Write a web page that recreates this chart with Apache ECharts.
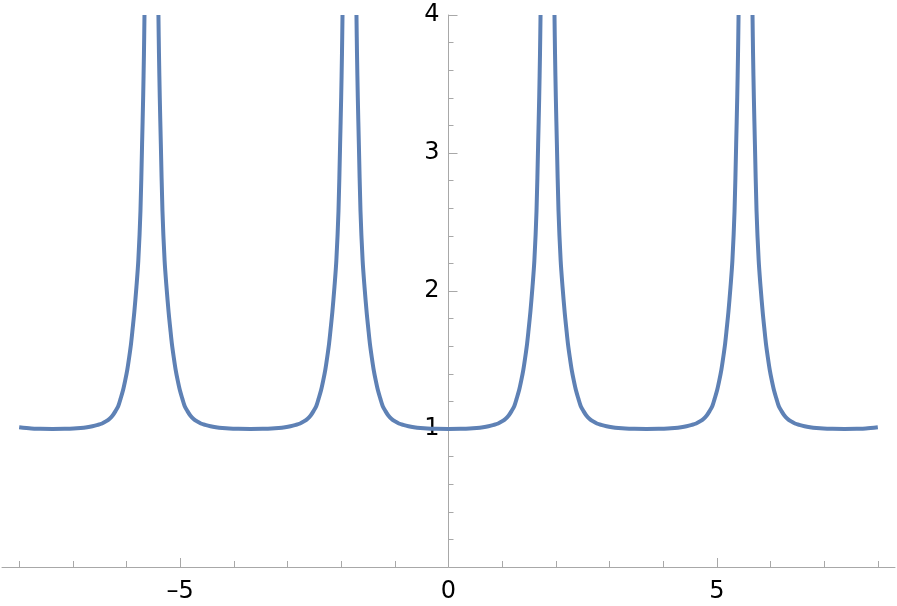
<!DOCTYPE html>
<html>
<head>
<meta charset="utf-8">
<script src="https://cdn.jsdelivr.net/npm/echarts@6/dist/echarts.min.js"></script>
<style>
html,body{margin:0;padding:0;background:#fff;}
#chart{width:897px;height:606px;}
</style>
</head>
<body>
<div id="chart"></div>
<script>
// Curve, split where it leaves the top of the plot (y = 4)
var seg1X = [-8, -7.775, -7.605, -7.38, -7.155, -6.985, -6.855, -6.735, -6.635, -6.535, -6.455, -6.385, -6.315, -6.255, -6.205, -6.155, -6.11, -6.065, -6.025, -5.985, -5.95, -5.915, -5.885, -5.855, -5.815, -5.78, -5.74, -5.71, -5.69, -5.675, -5.665];
var seg1Y = [1.012, 1.003, 1.001, 1.0, 1.001, 1.003, 1.007, 1.013, 1.02, 1.03, 1.04, 1.055, 1.075, 1.10, 1.13, 1.165, 1.22, 1.28, 1.35, 1.43, 1.52, 1.62, 1.73, 1.845, 2.03, 2.22, 2.58, 3.06, 3.40, 3.72, 4.0];

var seg2X = [-5.405, -5.395, -5.38, -5.36, -5.33, -5.29, -5.255, -5.215, -5.185, -5.155, -5.12, -5.085, -5.045, -5.005, -4.96, -4.915, -4.865, -4.815, -4.755, -4.685, -4.615, -4.535, -4.435, -4.335, -4.215, -4.085, -3.915, -3.69, -3.465, -3.295, -3.165, -3.045, -2.945, -2.845, -2.765, -2.695, -2.625, -2.565, -2.515, -2.465, -2.42, -2.375, -2.335, -2.295, -2.26, -2.225, -2.195, -2.165, -2.125, -2.09, -2.05, -2.02, -2.0, -1.985, -1.975];
var seg2Y = [4.0, 3.72, 3.40, 3.06, 2.58, 2.22, 2.03, 1.845, 1.73, 1.62, 1.52, 1.43, 1.35, 1.28, 1.22, 1.165, 1.13, 1.10, 1.075, 1.055, 1.04, 1.03, 1.02, 1.013, 1.007, 1.003, 1.001, 1.0, 1.001, 1.003, 1.007, 1.013, 1.02, 1.03, 1.04, 1.055, 1.075, 1.10, 1.13, 1.165, 1.22, 1.28, 1.35, 1.43, 1.52, 1.62, 1.73, 1.845, 2.03, 2.22, 2.58, 3.06, 3.40, 3.72, 4.0];

var seg3X = [-1.715, -1.705, -1.69, -1.67, -1.64, -1.6, -1.565, -1.525, -1.495, -1.465, -1.43, -1.395, -1.355, -1.315, -1.27, -1.225, -1.175, -1.125, -1.065, -0.995, -0.925, -0.845, -0.745, -0.645, -0.525, -0.395, -0.225, 0, 0.225, 0.395, 0.525, 0.645, 0.745, 0.845, 0.925, 0.995, 1.065, 1.125, 1.175, 1.225, 1.27, 1.315, 1.355, 1.395, 1.43, 1.465, 1.495, 1.525, 1.565, 1.6, 1.64, 1.67, 1.69, 1.705, 1.715];
var seg3Y = [4.0, 3.72, 3.40, 3.06, 2.58, 2.22, 2.03, 1.845, 1.73, 1.62, 1.52, 1.43, 1.35, 1.28, 1.22, 1.165, 1.13, 1.10, 1.075, 1.055, 1.04, 1.03, 1.02, 1.013, 1.007, 1.003, 1.001, 1.0, 1.001, 1.003, 1.007, 1.013, 1.02, 1.03, 1.04, 1.055, 1.075, 1.10, 1.13, 1.165, 1.22, 1.28, 1.35, 1.43, 1.52, 1.62, 1.73, 1.845, 2.03, 2.22, 2.58, 3.06, 3.40, 3.72, 4.0];

var seg4X = [1.975, 1.985, 2.0, 2.02, 2.05, 2.09, 2.125, 2.165, 2.195, 2.225, 2.26, 2.295, 2.335, 2.375, 2.42, 2.465, 2.515, 2.565, 2.625, 2.695, 2.765, 2.845, 2.945, 3.045, 3.165, 3.295, 3.465, 3.69, 3.915, 4.085, 4.215, 4.335, 4.435, 4.535, 4.615, 4.685, 4.755, 4.815, 4.865, 4.915, 4.96, 5.005, 5.045, 5.085, 5.12, 5.155, 5.185, 5.215, 5.255, 5.29, 5.33, 5.36, 5.38, 5.395, 5.405];
var seg4Y = [4.0, 3.72, 3.40, 3.06, 2.58, 2.22, 2.03, 1.845, 1.73, 1.62, 1.52, 1.43, 1.35, 1.28, 1.22, 1.165, 1.13, 1.10, 1.075, 1.055, 1.04, 1.03, 1.02, 1.013, 1.007, 1.003, 1.001, 1.0, 1.001, 1.003, 1.007, 1.013, 1.02, 1.03, 1.04, 1.055, 1.075, 1.10, 1.13, 1.165, 1.22, 1.28, 1.35, 1.43, 1.52, 1.62, 1.73, 1.845, 2.03, 2.22, 2.58, 3.06, 3.40, 3.72, 4.0];

var seg5X = [5.665, 5.675, 5.69, 5.71, 5.74, 5.78, 5.815, 5.855, 5.885, 5.915, 5.95, 5.985, 6.025, 6.065, 6.11, 6.155, 6.205, 6.255, 6.315, 6.385, 6.455, 6.535, 6.635, 6.735, 6.855, 6.985, 7.155, 7.38, 7.605, 7.775, 8];
var seg5Y = [4.0, 3.72, 3.40, 3.06, 2.58, 2.22, 2.03, 1.845, 1.73, 1.62, 1.52, 1.43, 1.35, 1.28, 1.22, 1.165, 1.13, 1.10, 1.075, 1.055, 1.04, 1.03, 1.02, 1.013, 1.007, 1.003, 1.001, 1.0, 1.001, 1.003, 1.012];

var xMajorTicks = [-5, 0, 5];
var xMinorTicks = [-8, -7, -6, -4, -3, -2, -1, 1, 2, 3, 4, 6, 7, 8];
var yTickLabels = ['', '1', '2', '3', '4'];

var segments = [[seg1X, seg1Y], [seg2X, seg2Y], [seg3X, seg3Y], [seg4X, seg4Y], [seg5X, seg5Y]];

var axisGray = '#a8a8a8';
var lineColor = '#5e81b5';
var labelFont = {fontFamily: 'DejaVu Sans', fontSize: 24, color: '#000'};

var gridLeft = 2, gridRight = 2;
var chartW = 897;
// pixel distance from grid left edge to x = 0 (symmetric range)
var zeroOffset = (chartW - gridLeft - gridRight) / 2;

var chart = echarts.init(document.getElementById('chart'), null, {renderer: 'canvas'});

var series = segments.map(function (s) {
  return {
    type: 'line',
    data: s[0].map(function (x, i) { return [x, s[1][i]]; }),
    showSymbol: false,
    smooth: 0.3,
    clip: true,
    lineStyle: {color: lineColor, width: 4, cap: 'butt'},
    animation: false
  };
});

chart.setOption({
  animation: false,
  backgroundColor: '#fff',
  grid: {left: gridLeft, right: gridRight, top: 15, bottom: 39, containLabel: false, outerBoundsMode: 'none'},
  xAxis: [
    {
      type: 'value', min: -8.32, max: 8.32, position: 'bottom',
      axisLine: {onZero: false, lineStyle: {color: axisGray, width: 1}},
      axisTick: {inside: true, length: 9, customValues: xMajorTicks, lineStyle: {color: axisGray}},
      axisLabel: Object.assign({customValues: xMajorTicks, margin: 13,
        formatter: function (v) { return v < 0 ? '\u2013' + Math.abs(v) : String(v); }}, labelFont),
      splitLine: {show: false}
    },
    {
      type: 'value', min: -8.32, max: 8.32, position: 'bottom',
      axisLine: {show: false, onZero: false},
      axisTick: {inside: true, length: 6, customValues: xMinorTicks, lineStyle: {color: axisGray}},
      axisLabel: {show: false},
      splitLine: {show: false}
    }
  ],
  yAxis: {
    type: 'value', min: 0, max: 4, interval: 1,
    axisLine: {onZero: true, lineStyle: {color: axisGray, width: 1}},
    axisTick: {inside: true, length: 9, lineStyle: {color: axisGray}},
    minorTick: {show: true, splitNumber: 5, length: 5, lineStyle: {color: axisGray}},
    axisLabel: Object.assign({margin: 9 - zeroOffset,
      formatter: function (v) { return yTickLabels[Math.round(v)]; }}, labelFont),
    splitLine: {show: false},
    minorSplitLine: {show: false}
  },
  series: series
});
</script>
</body>
</html>
